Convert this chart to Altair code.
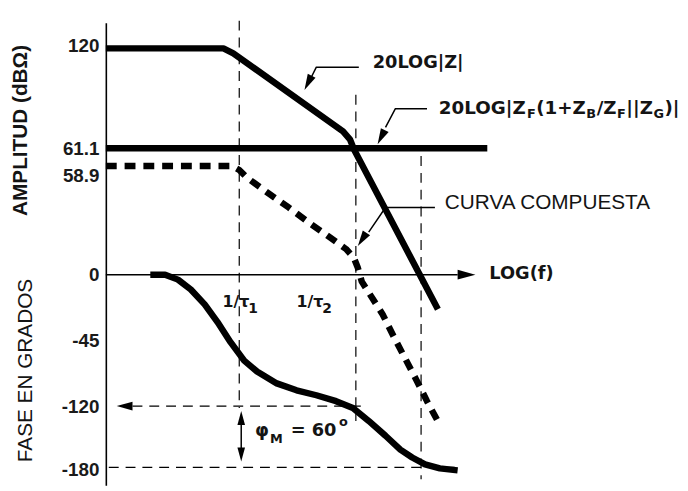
import math
import altair as alt
import pandas as pd

# ---------------- data (diagram units: x = log f position, y = vertical position) -------------
tick_pos = [43, 147, 175, 275, 342, 408, 472]
tick_lab = ["120", "61.1", "58.9", "0", "-45", "-120", "-180"]

# 20LOG|Z|
mag_x = [107, 226, 236, 347, 354, 358, 443]
mag_y = [46, 46, 51, 130, 138, 148, 310]

# 20LOG|ZF(1+ZB/ZF||ZG)|  (61.1 dB level)
ref_x = [107, 493]
ref_y = [147, 147]

# composite curve (dashed)
comp_x = [107, 235, 242, 250, 272, 292, 312, 332, 350, 358, 362, 366, 373, 387, 398, 410, 422, 432, 445]
comp_y = [165, 165, 169, 177, 193, 207, 222, 236, 249, 258, 268, 282, 293, 315, 337, 360, 383, 403, 427]

# phase curve
phase_x = [152, 167, 180, 193, 207, 220, 233, 247, 260, 280, 300, 320, 340, 357, 373, 390, 405, 417, 430, 445, 463]
phase_y = [275, 275, 280, 290, 305, 323, 343, 362, 373, 385, 392, 397, 403, 410, 423, 438, 452, 460, 467, 471, 473]

# thin solid guides: (x list, y list)
solid_guides = [
    ([107, 463], [275, 275]),            # LOG(f) axis
    ([363, 320, 314], [65, 65, 77]),     # leader 20LOG|Z|
    ([432, 400, 390], [107, 107, 126]),  # leader 20LOG|ZF...|
    ([440, 390, 373], [207, 207, 232]),  # leader CURVA COMPUESTA
    ([244, 244], [418, 459]),            # phi_M span
]
# thin dashed guides
dashed_guides = [
    ([242, 242], [18, 410]),    # 1/tau1
    ([360, 360], [93, 423]),    # 1/tau2
    ([426, 426], [155, 482]),   # crossover
    ([134, 372], [408, 408]),   # -120 deg
    ([110, 465], [470, 470]),   # -180 deg
]
# arrowheads: tip x, tip y, direction (deg clockwise from up), length
arrows = [
    (308, 88, 207, 16),
    (382, 143, 207, 16),
    (362, 246, 213, 16),
    (118, 408, 270, 16),
    (244, 413, 0, 14),
    (244, 464, 180, 14),
    (481, 275, 90, 18),
]

# ---------------- helpers -------------
X_SCALE = alt.Scale(domain=[107, 688], nice=False, zero=False)
Y_SCALE = alt.Scale(domain=[488, 20], nice=False, zero=False)

label_expr = " : ".join(
    f"datum.value == {p} ? '{l}'" for p, l in zip(tick_pos, tick_lab)
) + " : ''"

Y_AXIS = alt.Axis(
    values=tick_pos, labelExpr=label_expr, ticks=False, grid=False,
    domainColor="black", domainWidth=1.6, labelFont="Liberation Sans",
    labelFontWeight="bold", labelFontSize=19, labelColor="#1a1a1a",
    labelPadding=7, labelOverlap=False, labelBound=False, labelFlush=False,
    title=None,
)


def X():
    return alt.X("x:Q", scale=X_SCALE, axis=None)


def Y():
    return alt.Y("y:Q", scale=Y_SCALE, axis=Y_AXIS)


def lines_df(groups):
    rows = []
    for gi, (xs, ys) in enumerate(groups):
        for oi, (xv, yv) in enumerate(zip(xs, ys)):
            rows.append({"g": gi, "o": oi, "x": xv, "y": yv})
    return pd.DataFrame(rows)


def line_layer(groups, width, dash=None):
    kw = dict(color="black", strokeWidth=width, strokeCap="butt", strokeJoin="round")
    if dash:
        kw["strokeDash"] = dash
    return alt.Chart(lines_df(groups)).mark_line(**kw).encode(
        x=X(), y=Y(), detail="g:N", order="o:Q"
    )


def text_layer(xs, ys, texts, size, font, weight="normal", align="left", angle=0):
    df = pd.DataFrame({"x": xs, "y": ys, "t": texts})
    return alt.Chart(df).mark_text(
        align=align, baseline="middle", fontSize=size, font=font,
        fontWeight=weight, angle=angle, color="#141414",
    ).encode(x=X(), y=Y(), text="t:N")


# ---------------- curves -------------
thick_solid = line_layer([(mag_x, mag_y), (ref_x, ref_y), (phase_x, phase_y)], 6.5)
thick_dashed = line_layer([(comp_x, comp_y)], 6.5, dash=[11, 8])
thin_solid = line_layer(solid_guides, 1.5)
thin_dashed = line_layer(dashed_guides, 1.2, dash=[10, 7])

# arrowheads
arr_rows = []
for tx, ty, ang, ln in arrows:
    dx, dy = math.sin(math.radians(ang)), -math.cos(math.radians(ang))
    arr_rows.append({"x": tx - dx * ln / 2, "y": ty - dy * ln / 2, "a": ang, "s": ln * ln})
arrow_layer = alt.Chart(pd.DataFrame(arr_rows)).mark_point(
    shape="M0,-1L0.55,1L-0.55,1Z", filled=True, color="black", opacity=1
).encode(
    x=X(), y=Y(),
    angle=alt.Angle("a:Q", scale=None),
    size=alt.Size("s:Q", scale=None),
)

# ---------------- texts -------------
DJ = "DejaVu Sans"
LB = "Liberation Sans"

texts = [
    text_layer([21], [129], ["AMPLITUD (dBΩ)"], 21, LB, "bold", "center", 270),
    text_layer([26], [372], ["FASE EN GRADOS"], 21, LB, "normal", "center", 270),
    text_layer([377, 495], [61, 274], ["20LOG|Z|", "LOG(f)"], 18, DJ, "bold"),
    text_layer([450], [203], ["CURVA COMPUESTA"], 21, LB, "normal"),
    text_layer([225, 300], [303, 303], ["1/τ", "1/τ"], 16, DJ, "bold"),
    text_layer([251, 326], [310, 310], ["1", "2"], 14, DJ, "bold"),
    text_layer([258, 294], [433, 433], ["φ", "= 60"], 18, DJ, "bold"),
    text_layer([273], [441], ["M"], 13, DJ, "bold"),
    text_layer([343], [424], ["o"], 13, DJ, "bold"),
]

# compound label with subscripts
DJB_W = {'2': .696, '0': .696, 'L': .637, 'O': .850, 'G': .821, '|': .365, 'Z': .725,
         'F': .683, '(': .457, ')': .457, '1': .696, '+': .838, 'B': .762, '/': .365}
pieces = [("20LOG|Z", 0), ("F", 1), ("(1+Z", 0), ("B", 1), ("/Z", 0), ("F", 1),
          ("||Z", 0), ("G", 1), (")|", 0)]
MAIN, SUB = 18.5, 13
cx = 444
main_x, main_y, main_t, sub_x, sub_y, sub_t = [], [], [], [], [], []
for t, is_sub in pieces:
    fs = SUB if is_sub else MAIN
    if is_sub:
        sub_x.append(cx); sub_y.append(112); sub_t.append(t)
    else:
        main_x.append(cx); main_y.append(106); main_t.append(t)
    cx += sum(DJB_W[c] for c in t) * fs + 0.5
texts.append(text_layer(main_x, main_y, main_t, MAIN, DJ, "bold"))
texts.append(text_layer(sub_x, sub_y, sub_t, SUB, DJ, "bold"))

chart = alt.layer(
    thin_dashed, thin_solid, thick_dashed, thick_solid, arrow_layer, *texts
).properties(
    width=581, height=468,
    padding={"left": 99, "top": 12, "right": 0, "bottom": 0},
    autosize=alt.AutoSizeParams(type="none"),
    background="white",
).configure_view(stroke=None)

chart.save("out.html", embed_options={"renderer": "svg", "actions": False})
